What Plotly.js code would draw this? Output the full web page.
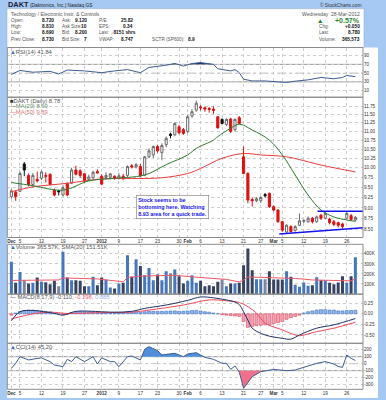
<!DOCTYPE html>
<html><head><meta charset="utf-8">
<script src="https://cdn.plot.ly/plotly-3.0.1.min.js"></script>
<style>html,body{margin:0;padding:0;background:#a6c9f3;}#chart{width:386px;height:400px;}</style>
</head><body><div id="chart"></div>
<script>
// ---------------- DATA ----------------
const dates = ['2011-12-01','2011-12-02','2011-12-05','2011-12-06','2011-12-07','2011-12-08','2011-12-09','2011-12-12','2011-12-13','2011-12-14','2011-12-15','2011-12-16','2011-12-19','2011-12-20','2011-12-21','2011-12-22','2011-12-23','2011-12-27','2011-12-28','2011-12-29','2011-12-30',
'2012-01-03','2012-01-04','2012-01-05','2012-01-06','2012-01-09','2012-01-10','2012-01-11','2012-01-12','2012-01-13','2012-01-17','2012-01-18','2012-01-19','2012-01-20','2012-01-23','2012-01-24','2012-01-25','2012-01-26','2012-01-27','2012-01-30','2012-01-31',
'2012-02-01','2012-02-02','2012-02-03','2012-02-06','2012-02-07','2012-02-08','2012-02-09','2012-02-10','2012-02-13','2012-02-14','2012-02-15','2012-02-16','2012-02-17','2012-02-21','2012-02-22','2012-02-23','2012-02-24','2012-02-27','2012-02-28','2012-02-29',
'2012-03-01','2012-03-02','2012-03-05','2012-03-06','2012-03-07','2012-03-08','2012-03-09','2012-03-12','2012-03-13','2012-03-14','2012-03-15','2012-03-16','2012-03-19','2012-03-20','2012-03-21','2012-03-22','2012-03-23','2012-03-26','2012-03-27','2012-03-28'];

const open = [9.27,9.38,9.40,10.10,9.80,9.57,9.70,9.73,9.80,9.83,
9.43,9.41,9.31,9.60,9.60,9.94,9.92,9.84,9.70,9.74,
9.90,9.78,9.75,9.76,9.78,9.72,9.78,9.80,10.05,10.02,
10.03,9.81,10.29,10.34,10.57,10.40,10.62,10.92,10.90,11.13,
11.05,11.00,11.45,11.63,11.72,11.70,11.68,11.66,11.43,11.35,
11.20,11.36,11.05,11.40,10.29,9.85,9.20,9.17,9.17,9.32,
9.35,9.03,8.95,8.68,8.45,8.57,8.48,8.60,8.69,8.68,
8.76,8.68,8.83,8.76,8.74,8.68,8.66,8.63,8.76,8.82,
8.72];
const high = [9.45,9.42,9.90,10.15,9.85,9.86,9.90,9.93,9.88,9.85,
9.47,9.44,9.55,9.62,10.00,10.05,9.96,9.86,9.82,9.92,
9.96,9.83,9.88,9.86,9.80,9.86,9.84,10.06,10.10,10.12,
10.10,10.31,10.52,10.60,10.62,10.66,10.85,10.96,11.26,11.18,
11.10,11.48,11.66,11.92,11.78,11.74,11.72,11.75,11.45,11.38,
11.38,11.40,11.38,11.45,10.57,9.88,9.25,9.26,9.28,9.36,
9.37,9.06,8.97,8.70,8.63,8.60,8.60,8.87,8.73,8.80,
8.79,8.82,8.86,8.92,8.77,8.72,8.68,8.66,8.92,8.86,
8.81];
const low = [9.22,9.17,9.38,9.78,9.52,9.50,9.62,9.68,9.62,9.55,
9.28,9.30,9.27,9.28,9.58,9.80,9.74,9.62,9.66,9.70,
9.85,9.55,9.70,9.70,9.69,9.70,9.70,9.76,9.98,9.98,
9.76,9.78,10.25,10.26,10.40,10.20,10.55,10.80,10.86,10.92,
10.90,10.95,11.40,11.58,11.62,11.58,11.55,11.52,11.08,11.20,
11.15,10.95,11.00,11.20,9.83,9.11,9.03,9.14,9.12,9.25,
9.00,8.92,8.66,8.46,8.43,8.44,8.46,8.58,8.65,8.66,
8.64,8.66,8.72,8.74,8.62,8.58,8.55,8.52,8.74,8.70,
8.69];
const close = [9.41,9.27,9.85,9.94,9.57,9.80,9.66,9.89,9.78,9.57,
9.31,9.39,9.49,9.31,9.94,9.83,9.80,9.66,9.76,9.88,
9.86,9.58,9.80,9.84,9.72,9.79,9.71,10.03,10.02,10.08,
9.79,10.29,10.45,10.57,10.45,10.60,10.80,10.88,11.23,10.96,
10.94,11.43,11.58,11.84,11.70,11.66,11.65,11.62,11.10,11.23,
11.35,11.00,11.35,11.23,9.85,9.19,9.17,9.22,9.25,9.29,
9.03,8.95,8.68,8.49,8.60,8.46,8.57,8.70,8.71,8.76,
8.68,8.79,8.76,8.87,8.66,8.62,8.60,8.57,8.87,8.73,
8.78];
// volume in thousands of shares
const volumeK = [320,111,220,138,105,111,165,121,118,98,
131,78,420,165,138,138,131,78,78,171,
88,165,145,65,55,105,111,387,171,347,
280,187,260,138,195,138,227,204,244,178,
105,131,187,111,131,78,88,78,121,145,
78,105,105,111,287,454,237,148,148,148,
227,145,145,145,227,171,91,71,115,81,
88,168,138,138,111,98,115,178,111,178,
366];

const ma20Idx = [0,5,12,18,23,31,36,41,43,47,48,51,53,56,60,63,66,69,72,75,78,80];
const ma20 = [9.62,9.54,9.43,9.66,9.72,9.81,10.08,10.34,10.52,10.75,10.85,11.09,11.21,11.04,10.75,10.34,9.81,9.31,8.95,8.79,8.72,8.69];
const ma50Idx = [0,5,13,21,28,35,41,44,49,54,58,64,72,80];
const ma50 = [9.39,9.51,9.60,9.71,9.72,9.74,9.85,9.98,10.25,10.38,10.34,10.29,10.07,9.89];

const volSmaIdx = [0,11,12,20,26,27,30,38,42,50,53,54,55,58,62,66,70,75,79,80];
const volSmaK = [135,140,160,150,122,165,178,187,171,145,121,140,170,165,160,155,140,131,131,151.51];

const rsiIdx = [0,2,5,9,11,13,17,21,24,27,30,32,36,38,40,42,44,47,48,51,52,53,54,56,59,62,64,66,69,72,75,77,78,80];
const rsi = [47,56,52,54,48,57,55,51,55,58,51,63,68,72,66,72,74,70,60,55,58,51,36,32,32,29,28.5,31.5,34.5,40,37,40,44.5,41.84];

const macdIdx = [0,2,5,10,12,15,21,24,28,31,36,41,44,47,50,52,53,54,55,56,59,63,65,67,71,75,80];
const macd = [-0.16,0.05,0.08,0.01,-0.03,0.06,0.05,0.04,0.06,0.13,0.21,0.32,0.40,0.38,0.33,0.28,0.22,0.05,-0.15,-0.34,-0.50,-0.58,-0.60,-0.50,-0.34,-0.26,-0.110];
const signalIdx = [0,5,9,13,21,28,32,40,46,50,53,55,57,59,63,66,67,71,75,80];
const signal = [-0.12,0.0,0.04,0.01,0.03,0.04,0.09,0.21,0.33,0.31,0.27,0.17,0.02,-0.22,-0.38,-0.50,-0.52,-0.42,-0.34,-0.198];
const macdHist = [-0.03,0.02,0.06,0.08,0.09,0.09,0.08,0.07,0.06,0.05,
0.02,0.0,-0.02,-0.01,0.03,0.05,0.06,0.05,0.05,0.04,
0.03,0.02,0.02,0.01,0.01,0.02,0.02,0.04,0.04,0.05,
0.04,0.05,0.06,0.06,0.06,0.06,0.06,0.07,0.07,0.06,
0.06,0.07,0.08,0.08,0.07,0.05,0.04,0.02,0.0,-0.02,
-0.03,-0.04,-0.05,-0.06,-0.18,-0.32,-0.30,-0.28,-0.27,-0.26,
-0.25,-0.23,-0.21,-0.18,-0.13,-0.09,-0.06,-0.03,0.02,0.05,
0.07,0.09,0.10,0.10,0.09,0.09,0.07,0.07,0.08,0.08,
0.088];

const cciIdx = [0,1,2,4,6,7,9,10,12,13,14,15,17,19,20,21,23,24,25,27,28,30,31,32,34,35,38,40,41,43,45,47,49,50,51,52,53,54,56,58,61,64,66,69,71,73,75,76,77,78,79,80];
const cci = [-66,5,100,53,75,83,29,-19,-43,62,29,100,29,100,-5,83,29,29,-43,100,110,53,205,243,186,124,148,100,138,157,90,62,5,5,-81,-33,-120,-352,-186,-114,-81,-100,-90,-33,5,29,-5,-40,-52,124,76,45.2];

// annotation trend lines drawn on the price panel (index, price)
const resistIdx = [71.2, 82.9], resistPx = [8.92, 8.92];
const supportIdx = [62.3, 82.9], supportPx = [8.403, 8.552];

const tickDates = ['2011-12-01','2011-12-05','2011-12-12','2011-12-19','2011-12-27','2012-01-03','2012-01-09','2012-01-17','2012-01-23','2012-01-30','2012-02-01','2012-02-06','2012-02-13','2012-02-21','2012-02-27','2012-03-01','2012-03-05','2012-03-12','2012-03-19','2012-03-26'];
const tickText = ['<b>Dec</b>','5','12','19','27','<b>2012</b>','9','17','23','30','<b>Feb</b>','6','13','21','27','<b>Mar</b>','5','12','19','26'];
const priceTicks = [8.5,8.75,9,9.25,9.5,9.75,10,10.25,10.5,10.75,11,11.25,11.5,11.75];

// ---------------- BUILD ----------------
const FONT = 'Liberation Sans, Arial, sans-serif';
const W = 386, H = 400;
const px = v => v / W, py = v => 1 - v / H;
const idx = dates.map((d, i) => i);
const tickIdx = tickDates.map(d => dates.indexOf(d));
const prevC = i => i > 0 ? close[i - 1] : open[i];

function candles(filt, inc, dec) {
  const s = idx.filter(filt);
  return {type: 'candlestick', x: s, open: s.map(i => open[i]), high: s.map(i => high[i]), low: s.map(i => low[i]), close: s.map(i => close[i]),
    xaxis: 'x', yaxis: 'y2', whiskerwidth: 0, hoverinfo: 'skip', showlegend: false,
    increasing: inc, decreasing: dec};
}
const up = i => close[i] >= open[i];
const abv = i => close[i] >= prevC(i);
const WHITE = {line: {color: '#6a6a6a', width: 1}, fillcolor: '#ffffff'};
const HOLLOWRED = {line: {color: '#e01818', width: 1}, fillcolor: '#ffffff'};
const RED = {line: {color: '#dd1111', width: 1}, fillcolor: '#dd1111'};
const BLACK = {line: {color: '#111111', width: 1}, fillcolor: '#111111'};

function clipped(xs, ys, thr, above) {
  const ox = [], oy = [];
  for (let k = 0; k < xs.length; k++) {
    if (k > 0) {
      const d0 = ys[k - 1] - thr, d1 = ys[k] - thr;
      if (d0 * d1 < 0) { const t = d0 / (d0 - d1); ox.push(xs[k - 1] + t * (xs[k] - xs[k - 1])); oy.push(thr); }
    }
    ox.push(xs[k]); oy.push(above ? Math.max(ys[k], thr) : Math.min(ys[k], thr));
  }
  return {x: ox, y: oy};
}
function bandFill(xs, ys, thr, above, color, xa, ya) {
  const c = clipped(xs, ys, thr, above);
  return [
    {type: 'scatter', mode: 'lines', x: [xs[0], xs[xs.length - 1]], y: [thr, thr], xaxis: xa, yaxis: ya, line: {width: 0}, hoverinfo: 'skip', showlegend: false},
    {type: 'scatter', mode: 'lines', x: c.x, y: c.y, xaxis: xa, yaxis: ya, line: {width: 0}, fill: 'tonexty', fillcolor: color, hoverinfo: 'skip', showlegend: false}
  ];
}

const traces = [];
// RSI
traces.push(...bandFill(rsiIdx, rsi, 70, true, '#1c2c6c', 'x', 'y'));
traces.push(...bandFill(rsiIdx, rsi, 30, false, '#e0587a', 'x', 'y'));
traces.push({type: 'scatter', mode: 'lines', x: rsiIdx, y: rsi, xaxis: 'x', yaxis: 'y', line: {color: '#3d5d92', width: 1}, hoverinfo: 'skip'});
// Price
traces.push({type: 'scatter', mode: 'lines', x: ma50Idx, y: ma50, xaxis: 'x', yaxis: 'y2', line: {color: '#f03c3c', width: 1, shape: 'spline'}, hoverinfo: 'skip'});
traces.push({type: 'scatter', mode: 'lines', x: ma20Idx, y: ma20, xaxis: 'x', yaxis: 'y2', line: {color: '#2e7a2e', width: 1, shape: 'spline'}, hoverinfo: 'skip'});
traces.push(candles(i => up(i) && abv(i), WHITE, RED));
traces.push(candles(i => up(i) && !abv(i), HOLLOWRED, RED));
traces.push(candles(i => !up(i) && !abv(i), WHITE, RED));
traces.push(candles(i => !up(i) && abv(i), WHITE, BLACK));
traces.push({type: 'scatter', mode: 'lines', x: resistIdx, y: resistPx, xaxis: 'x', yaxis: 'y2', line: {color: '#1212ee', width: 1.5}, hoverinfo: 'skip'});
traces.push({type: 'scatter', mode: 'lines', x: supportIdx, y: supportPx, xaxis: 'x', yaxis: 'y2', line: {color: '#1212ee', width: 1.5}, hoverinfo: 'skip'});
// Volume
traces.push({type: 'bar', x: idx, y: volumeK.map(v => v * 1000), xaxis: 'x', yaxis: 'y3',
  marker: {color: idx.map(i => up(i) ? '#4677ba' : (abv(i) ? '#7c869c' : '#38445f')), line: {width: 0}}, hoverinfo: 'skip'});
traces.push({type: 'scatter', mode: 'lines', x: volSmaIdx, y: volSmaK.map(v => v * 1000), xaxis: 'x', yaxis: 'y3', line: {color: '#ee5a6a', width: 1}, hoverinfo: 'skip'});
// MACD
traces.push({type: 'bar', x: idx, y: macdHist, xaxis: 'x', yaxis: 'y4',
  marker: {color: macdHist.map(v => v >= 0 ? '#90b6ec' : '#f4a2b3'), line: {color: macdHist.map(v => v >= 0 ? '#3e6fbf' : '#d8485f'), width: 0.6}}, hoverinfo: 'skip'});
traces.push({type: 'scatter', mode: 'lines', x: signalIdx, y: signal, xaxis: 'x', yaxis: 'y4', line: {color: '#f04a5a', width: 1, shape: 'spline'}, hoverinfo: 'skip'});
traces.push({type: 'scatter', mode: 'lines', x: macdIdx, y: macd, xaxis: 'x', yaxis: 'y4', line: {color: '#22336a', width: 1, shape: 'spline'}, hoverinfo: 'skip'});
// CCI
traces.push(...bandFill(cciIdx, cci, 100, true, '#4f8fdc', 'x2', 'y5'));
traces.push(...bandFill(cciIdx, cci, -100, false, '#f0708c', 'x2', 'y5'));
traces.push({type: 'scatter', mode: 'lines', x: cciIdx, y: cci, xaxis: 'x2', yaxis: 'y5', line: {color: '#3d5d92', width: 1}, hoverinfo: 'skip'});

// axes
const gridC = '#cdcdcd';
const tickF = {family: FONT, size: 4.6, color: '#333'};
const xr = [-0.95, 81.77];
const xDom = [px(7.3), px(363)];
function xax(anchor) {
  return {domain: xDom, range: xr, anchor: anchor, tickmode: 'array', tickvals: tickIdx, ticktext: tickText, tickangle: 0,
    tickfont: tickF, showgrid: true, gridcolor: gridC, griddash: 'dot', gridwidth: 1, zeroline: false, showline: false, ticks: '',
    rangeslider: {visible: false}, fixedrange: true};
}
function yax(top, bot, extra) {
  return Object.assign({domain: [py(bot), py(top)], side: 'right', anchor: 'x', showgrid: true, gridcolor: gridC, griddash: 'dot', gridwidth: 1,
    zeroline: false, showline: false, ticks: '', tickfont: tickF, fixedrange: true, tickmode: 'array'}, extra);
}

const shapes = [];
const rectPx = (x0, y0, x1, y1, o) => shapes.push(Object.assign({type: 'rect', xref: 'paper', yref: 'paper', x0: px(x0), x1: px(x1), y0: py(y1), y1: py(y0)}, o));
rectPx(7, 47.5, 378, 398, {fillcolor: '#ffffff', line: {width: 0}, layer: 'below'});
rectPx(7, 8.7, 364, 47.5, {fillcolor: '#ffffff', line: {color: '#9fb3cc', width: 0.6}, layer: 'below'});
const panels = [[47.5, 97.2], [97.3, 237.5], [244.3, 294], [294.3, 343.3], [343.3, 389.3]];
panels.forEach(p => rectPx(7.3, p[0], 363, p[1], {fillcolor: 'rgba(0,0,0,0)', line: {color: '#8c8c8c', width: 1}, layer: 'above'}));
const hline = (ya, v, dash, color) => shapes.push({type: 'line', xref: 'x domain', yref: ya, x0: 0, x1: 1, y0: v, y1: v, line: {color: color, width: 1, dash: dash}, layer: 'below'});
hline('y', 70, 'solid', '#9a9a9a'); hline('y', 30, 'solid', '#9a9a9a'); hline('y', 50, 'dashdot', '#c0c0c0');
hline('y5', 100, 'solid', '#9a9a9a'); hline('y5', -100, 'solid', '#9a9a9a'); hline('y5', 0, 'dashdot', '#c0c0c0');

// annotations
const ann = [];
const INF = {family: FONT, size: 4.7, color: '#555'};
function T(x, y, text, o) {
  ann.push(Object.assign({xref: 'paper', yref: 'paper', x: px(x), y: py(y), text: text, showarrow: false, xanchor: 'left', yanchor: 'middle',
    borderpad: 0, font: INF}, o || {}));
}
const VAL = {family: FONT, size: 4.8, color: '#111'};
// header
T(7, 4.8, '<b>DAKT</b>', {font: {family: FONT, size: 7.4, color: '#1b1b33'}});
T(28.5, 5.2, '(Daktronics, Inc.) Nasdaq GS', {font: {family: FONT, size: 4.8, color: '#222'}});
T(362, 5, '© StockCharts.com', {xanchor: 'right', font: {family: FONT, size: 4.8, color: '#333'}});
const R = [14, 20.7, 26.7, 32.7, 39.3];
T(9.5, R[0], 'Technology / Electronic Instr. & Controls', {font: {family: FONT, size: 5, color: '#555'}});
T(361, R[0], 'Wednesday  28-Mar-2012', {xanchor: 'right', font: {family: FONT, size: 5, color: '#555'}});
const colA = [['Open:', '8.720'], ['High:', '8.810'], ['Low:', '8.690'], ['Prev Close:', '8.730']];
const colB = [['Ask:', '9.120'], ['Ask Size:', '10'], ['Bid:', '8.200'], ['Bid Size:', '7']];
const colC = [['P/E:', '25.82'], ['EPS:', '0.34'], ['Last:', ''], ['VWAP:', '8.747']];
colA.forEach((c, k) => { T(9.5, R[k + 1], c[0]); T(55, R[k + 1], '<b>' + c[1] + '</b>', {xanchor: 'right', font: VAL}); });
colB.forEach((c, k) => { T(60.5, R[k + 1], c[0]); T(88, R[k + 1], '<b>' + c[1] + '</b>', {xanchor: 'right', font: VAL}); });
colC.forEach((c, k) => { T(97.5, R[k + 1], c[0]); if (c[1]) T(134, R[k + 1], '<b>' + c[1] + '</b>', {xanchor: 'right', font: VAL}); });
T(136.5, R[3], '<span style="color:#dd1111">↓</span><b>8151 shrs</b>', {xanchor: 'right', font: VAL});
T(151, R[4], 'SCTR (SP600):');
T(186.5, R[4], '<b>8.9</b>', {font: VAL});
T(316, R[1], '▲', {font: {family: FONT, size: 6.5, color: '#1f7a1f'}});
T(361, R[1] - 0.3, '<b>+0.57%</b>', {xanchor: 'right', font: {family: FONT, size: 7, color: '#2a8a2a'}});
T(318, R[2], 'Chg:'); T(361, R[2], '<b>+0.050</b>', {xanchor: 'right', font: VAL});
T(318, R[3], 'Last:'); T(361, R[3], '<b>8.780</b>', {xanchor: 'right', font: VAL});
T(318, R[4], 'Volume:'); T(361, R[4], '<b>365,573</b>', {xanchor: 'right', font: VAL});

// panel labels
const LBL = {family: FONT, size: 5.8, color: '#555'};
const icon = '<span style="color:#3a6fc0">▲</span>';
T(9, 51.8, icon + 'RSI(14) 41.84', {font: LBL});
T(9, 100.8, '<span style="color:#333">■</span>DAKT (Daily) 8.78', {font: LBL});
T(9, 106.2, '<span style="color:#2e7a2e">—</span><span style="color:#6a8f6a">MA(20) 8.69</span>', {font: LBL});
T(9, 111.6, '<span style="color:#f03c3c">—</span><span style="color:#e07a7a">MA(50) 9.89</span>', {font: LBL});
T(9, 247, icon + 'Volume 365.57K, SMA(20) 151.51K', {font: LBL});
T(9, 297.4, '<span style="color:#22336a">—</span> MACD(8,17,9) -0.110, <span style="color:#f05a6a">-0.198</span>, <span style="color:#8fb0e8">0.088</span>', {font: LBL});
T(9, 347.2, icon + 'CCI(14) 45.20', {font: LBL});

// comment box
ann.push({xref: 'paper', yref: 'paper', x: px(135.5), y: py(195), xanchor: 'left', yanchor: 'top', align: 'left', showarrow: false,
  text: '<b>Stock seems to be<br>bottoming here. Watching<br>8.93 area for a quick trade.</b>',
  bgcolor: '#ffffff', bordercolor: '#8a8a8a', borderwidth: 0.7, borderpad: 1.5,
  font: {family: FONT, size: 5.4, color: '#1515ee'}});

const layout = {
  width: W, height: H, margin: {l: 0, r: 0, t: 0, b: 0}, paper_bgcolor: '#a6c9f3', plot_bgcolor: 'rgba(0,0,0,0)',
  showlegend: false, bargap: 0.3, font: {family: FONT}, hovermode: false,
  xaxis: xax('y2'), xaxis2: xax('y5'),
  yaxis: yax(47.5, 97.2, {range: [-5.2, 108.6], tickvals: [10, 30, 50, 70, 90]}),
  yaxis2: yax(97.3, 237.5, {type: 'log', range: [Math.log10(8.329), Math.log10(12.026)], tickvals: priceTicks, ticktext: priceTicks.map(v => v.toFixed(2))}),
  yaxis3: yax(244.3, 294, {range: [0, 495000], tickvals: [100000, 200000, 300000, 400000], ticktext: ['100K', '200K', '300K', '400K']}),
  yaxis4: yax(294.3, 343.3, {range: [-0.698, 0.464], tickvals: [0.25, 0, -0.25, -0.5], ticktext: ['0.25', '0.00', '-0.25', '-0.50']}),
  yaxis5: yax(343.3, 389.3, {anchor: 'x2', range: [-366, 291], tickvals: [200, 100, 0, -100, -200, -300], ticktext: ['200', '100', '0', '-100', '-200', '-300']}),
  shapes: shapes, annotations: ann
};
Plotly.newPlot('chart', traces, layout, {staticPlot: true, displayModeBar: false});
</script></body></html>
